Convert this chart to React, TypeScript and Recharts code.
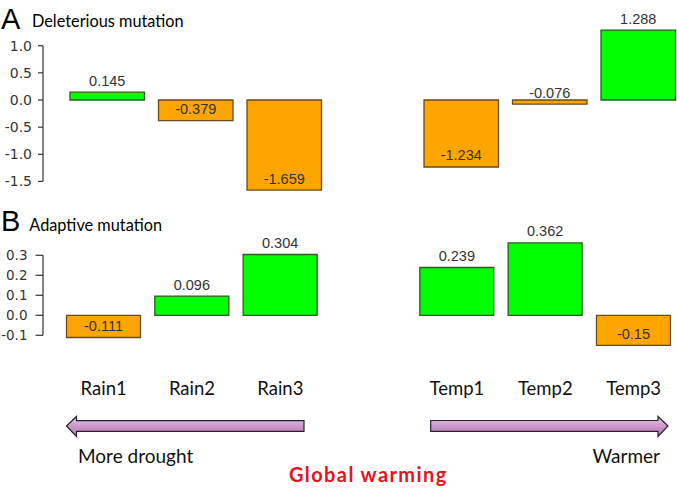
import React from 'react';
import { BarChart, Bar, XAxis, YAxis, Cell, LabelList } from 'recharts';

// ---- data ----
const categories = ['Rain1', 'Rain2', 'Rain3', '', 'Temp1', 'Temp2', 'Temp3'];
const deleteriousValues: (number | null)[] = [0.145, -0.379, -1.659, null, -1.234, -0.076, 1.288];
const adaptiveValues: (number | null)[] = [-0.111, 0.096, 0.304, null, 0.239, 0.362, -0.15];
const deleteriousTicks = [-1.5, -1, -0.5, 0, 0.5, 1];
const adaptiveTicks = [-0.1, 0, 0.1, 0.2, 0.3];

// ---- styles ----
const GREEN = '#00ff00';
const ORANGE = '#ffa500';
const GREEN_STROKE = '#2f5a22';
const ORANGE_STROKE = '#6a4c1c';
const TEXT_FONT = 'Lato, "Open Sans", sans-serif';
const NUM_FONT = '"DejaVu Sans", sans-serif';
const LABEL_FONT = '"Liberation Sans", Arial, sans-serif';

type PanelCfg = {
  top: number;
  width: number;
  height: number;
  margin: { top: number; right: number; bottom: number; left: number };
  xAxisHeight: number;
  domain: [number, number];
  yAxisWidth: number;
  padLeft: number;
  barSize: number;
  tickLen: number;
  labelGap: number;
  tickFont: number;
};

const PANEL_A: PanelCfg = {
  top: 0,
  width: 690,
  height: 200,
  margin: { top: 24, right: 7.5, bottom: 5, left: 0 },
  xAxisHeight: 0,
  domain: [-1.75, 1.4],
  yAxisWidth: 43,
  padLeft: 20,
  barSize: 74.5,
  tickLen: 5,
  labelGap: 6,
  tickFont: 14,
};

const PANEL_B: PanelCfg = {
  top: 200,
  width: 690,
  height: 200,
  margin: { top: 25.3, right: 12.2, bottom: 0, left: 0 },
  xAxisHeight: 44.7,
  domain: [-0.2, 0.45],
  yAxisWidth: 43,
  padLeft: 16.5,
  barSize: 74,
  tickLen: 7.5,
  labelGap: 8,
  tickFont: 13.5,
};

const plotHeight = (c: PanelCfg) => c.height - c.margin.top - c.margin.bottom - c.xAxisHeight;

const makeYTick = (cfg: PanelCfg, ticks: number[]) => {
  const topTick = Math.max(...ticks);
  const bottomTick = Math.min(...ticks);
  const pxPerUnit = plotHeight(cfg) / (cfg.domain[1] - cfg.domain[0]);
  return (props: any) => {
    const { x, y, payload } = props;
    const v = payload.value as number;
    return (
      <g>
        <line x1={x - cfg.tickLen} x2={x} y1={y} y2={y} stroke="#333" strokeWidth={1.2} />
        {v === topTick && (
          <line x1={x} x2={x} y1={y} y2={y + (topTick - bottomTick) * pxPerUnit} stroke="#333" strokeWidth={1.2} />
        )}
        <text
          x={x - cfg.tickLen - cfg.labelGap}
          y={y}
          dy="0.36em"
          textAnchor="end"
          fontFamily={NUM_FONT}
          fontSize={cfg.tickFont}
          fill="#333"
        >
          {v.toFixed(1)}
        </text>
      </g>
    );
  };
};

const ValueLabel = (props: any) => {
  const { x, y, width, height, value } = props;
  if (value == null || value === '') return null;
  const v = Number(value);
  const y0 = Math.min(Number(y), Number(y) + Number(height));
  const y1 = Math.max(Number(y), Number(y) + Number(height));
  const edge = v >= 0 ? y0 : y1;
  return (
    <text
      x={Number(x) + Number(width) / 2}
      y={edge - 6.5}
      textAnchor="middle"
      fontFamily={LABEL_FONT}
      fontSize={14.5}
      fill="#333"
    >
      {String(v)}
    </text>
  );
};

const CategoryTick = (props: any) => {
  const { x, y, payload } = props;
  return (
    <text x={x} y={y + 39.7} textAnchor="middle" fontFamily={TEXT_FONT} fontSize={18.5} fill="#111">
      {payload.value}
    </text>
  );
};

function Panel({ cfg, values, ticks, showCategories }: { cfg: PanelCfg; values: (number | null)[]; ticks: number[]; showCategories: boolean }) {
  const data = categories.map((c, i) => ({ category: c, value: values[i] }));
  return (
    <div style={{ position: 'absolute', left: 0, top: cfg.top }}>
      <BarChart width={cfg.width} height={cfg.height} data={data} margin={cfg.margin}>
        <XAxis
          dataKey="category"
          hide={!showCategories}
          height={cfg.xAxisHeight}
          padding={{ left: cfg.padLeft, right: 0 }}
          axisLine={false}
          tickLine={false}
          tickSize={0}
          tickMargin={0}
          interval={0}
          tick={CategoryTick}
        />
        <YAxis
          type="number"
          domain={cfg.domain}
          ticks={ticks}
          width={cfg.yAxisWidth}
          axisLine={false}
          tickLine={false}
          tickSize={0}
          tickMargin={0}
          interval={0}
          allowDataOverflow
          tick={makeYTick(cfg, ticks)}
        />
        <Bar dataKey="value" barSize={cfg.barSize} isAnimationActive={false}>
          {data.map((d, i) => (
            <Cell
              key={i}
              fill={(d.value ?? 0) > 0 ? GREEN : ORANGE}
              stroke={(d.value ?? 0) > 0 ? GREEN_STROKE : ORANGE_STROKE}
              strokeWidth={1.3}
            />
          ))}
          <LabelList dataKey="value" content={ValueLabel} />
        </Bar>
      </BarChart>
    </div>
  );
}

export default function App() {
  return (
    <div
      style={{
        position: 'absolute',
        left: 0,
        top: 0,
        width: 677,
        height: 489,
        overflow: 'hidden',
        background: '#fff',
      }}
    >
      <Panel cfg={PANEL_A} values={deleteriousValues} ticks={deleteriousTicks} showCategories={false} />
      <Panel cfg={PANEL_B} values={adaptiveValues} ticks={adaptiveTicks} showCategories={true} />
      <svg width={677} height={489} style={{ position: 'absolute', left: 0, top: 0, pointerEvents: 'none' }}>
        <defs>
          <linearGradient id="arrowFill" x1="0" y1="0" x2="0" y2="1">
            <stop offset="0" stopColor="#e4c6e4" />
            <stop offset="0.55" stopColor="#c894c8" />
            <stop offset="1" stopColor="#b57fb5" />
          </linearGradient>
        </defs>
        <text x={1} y={29.3} fontFamily='"Liberation Sans", Arial, sans-serif' fontSize={29} fill="#000">A</text>
        <text x={32} y={26.7} fontFamily={TEXT_FONT} fontSize={16.3} fill="#000">Deleterious mutation</text>
        <text x={1} y={230.7} fontFamily='"Liberation Sans", Arial, sans-serif' fontSize={29} fill="#000">B</text>
        <text x={29.3} y={230.7} fontFamily={TEXT_FONT} fontSize={16.3} fill="#000">Adaptive mutation</text>
        <path
          d="M66.5,426 L76.5,416.5 L76.5,420.7 L304,420.7 L304,431.3 L76.5,431.3 L76.5,436.5 Z"
          fill="url(#arrowFill)"
          stroke="#2b1f2b"
          strokeWidth={1.2}
        />
        <path
          d="M668,426 L658,416.5 L658,420.5 L430.7,420.5 L430.7,431.3 L658,431.3 L658,436.5 Z"
          fill="url(#arrowFill)"
          stroke="#2b1f2b"
          strokeWidth={1.2}
        />
        <text x={78} y={463.3} fontFamily={TEXT_FONT} fontSize={19} fill="#111">More drought</text>
        <text x={660} y={463.3} textAnchor="end" fontFamily={TEXT_FONT} fontSize={19} fill="#111">Warmer</text>
        <text
          x={368.3}
          y={481.7}
          textAnchor="middle"
          fontFamily={TEXT_FONT}
          fontWeight="bold"
          fontSize={20}
          letterSpacing={1.4}
          fill="#e3151b"
        >
          Global warming
        </text>
      </svg>
    </div>
  );
}
